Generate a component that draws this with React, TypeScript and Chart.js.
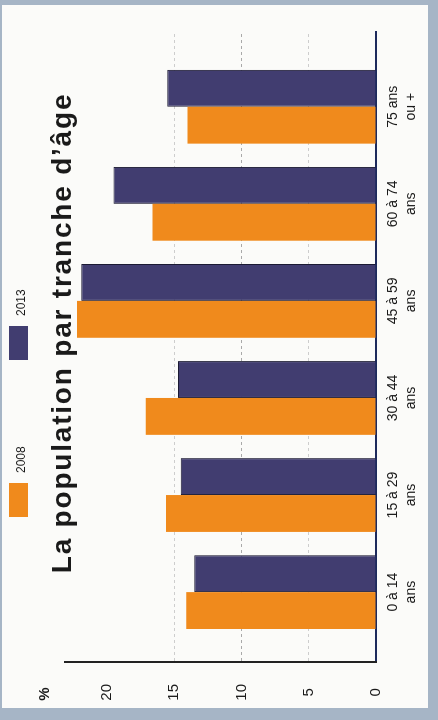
import React, { useEffect, useRef } from 'react';
import { Chart, registerables } from 'chart.js';

Chart.register(...registerables);

// ---- data ----
const CATEGORIES: string[][] = [
  ['0 à 14', 'ans'],
  ['15 à 29', 'ans'],
  ['30 à 44', 'ans'],
  ['45 à 59', 'ans'],
  ['60 à 74', 'ans'],
  ['75 ans', 'ou +'],
];
const SERIES_NAMES = ['2008', '2013'];
const VALUES_2008 = [14.1, 15.6, 17.1, 22.2, 16.6, 14.0];
const VALUES_2013 = [13.5, 14.5, 14.7, 21.9, 19.5, 15.5];
const VALUE_TICKS = [0, 5, 10, 15, 20];
const GRID_VALUES = [5, 10, 15];
const VALUE_MAX = 23.1;
const TITLE = 'La population par tranche d’âge';
const UNIT_LABEL = '%';

// ---- styles ----
const ORANGE = '#f08a1c';
const NAVY = '#413d70';
const TEXT = '#1a1a1a';
const SANS = '"Liberation Sans", Arial, sans-serif';

const overlay = {
  id: 'overlay',
  afterDraw(chart: any) {
    const { ctx } = chart;
    ctx.save();
    // title
    ctx.font = 'bold 28px ' + SANS;
    ctx.fillStyle = TEXT;
    ctx.textAlign = 'center';
    ctx.textBaseline = 'alphabetic';
    (ctx as any).letterSpacing = '1.8px';
    ctx.fillText(TITLE, 387, 71);
    (ctx as any).letterSpacing = '0px';
    // legend
    chart.data.datasets.forEach((ds: any, i: number) => {
      const x = 203 + i * 157;
      ctx.fillStyle = ds.backgroundColor;
      ctx.fillRect(x, 9, 34, 19);
      ctx.fillStyle = TEXT;
      ctx.font = '12px ' + SANS;
      ctx.textAlign = 'left';
      ctx.textBaseline = 'middle';
      ctx.fillText(ds.label, x + 44, 22);
    });
    // unit label above value axis
    const ys = chart.scales.y;
    ctx.font = 'bold 15px ' + SANS;
    ctx.textAlign = 'center';
    ctx.textBaseline = 'middle';
    ctx.fillStyle = TEXT;
    ctx.fillText(UNIT_LABEL, 26, ys.top - 20);
    ctx.restore();
  },
};

export default function App() {
  const ref = useRef<HTMLCanvasElement>(null);

  useEffect(() => {
    const canvas = ref.current;
    if (!canvas) return;
    const chart = new Chart(canvas, {
      type: 'bar',
      data: {
        datasets: [
          {
            label: SERIES_NAMES[0],
            data: VALUES_2008.map((v, i) => ({ x: i, y: v })),
            backgroundColor: ORANGE,
            borderWidth: 0,
          },
          {
            label: SERIES_NAMES[1],
            data: VALUES_2013.map((v, i) => ({ x: i, y: v })),
            backgroundColor: NAVY,
            borderColor: '#1b1a33',
            borderWidth: 1,
          },
        ],
      } as any,
      options: {
        responsive: false,
        animation: false,
        events: [],
        layout: { padding: { top: 65, right: 32, bottom: 0, left: 0 } },
        datasets: { bar: { categoryPercentage: 0.76, barPercentage: 1 } },
        plugins: {
          legend: { display: false },
          title: { display: false },
          tooltip: { enabled: false },
        },
        scales: {
          x: {
            type: 'linear',
            min: -0.72,
            max: CATEGORIES.length - 1 + 0.77,
            offset: false,
            grid: { display: false, drawTicks: false, offset: false },
            border: { display: true, color: '#1d2a5c', width: 2 },
            ticks: {
              stepSize: 1,
              includeBounds: false,
              autoSkip: false,
              maxRotation: 0,
              minRotation: 0,
              padding: 8,
              color: TEXT,
              font: { family: SANS, size: 14, lineHeight: 1.3 },
              callback: (v: any) => CATEGORIES[v as number] ?? '',
            },
            afterFit: (s: any) => {
              s.height = 62;
            },
          },
          y: {
            type: 'linear',
            min: 0,
            max: VALUE_MAX,
            grid: {
              color: (c: any) =>
                GRID_VALUES.includes(c.tick?.value)
                  ? c.tick.value === 10
                    ? '#a9a9a9'
                    : '#cdcdcd'
                  : 'rgba(0,0,0,0)',
              lineWidth: 1,
              drawTicks: false,
            },
            border: { display: true, color: '#222222', width: 2, dash: [3, 3] },
            ticks: {
              padding: 22,
              crossAlign: 'center',
              color: TEXT,
              font: { family: SANS, size: 15 },
            },
            afterBuildTicks: (s: any) => {
              s.ticks = VALUE_TICKS.map((v) => ({ value: v }));
            },
            afterFit: (s: any) => {
              s.width = 58;
            },
          },
        },
      } as any,
      plugins: [overlay],
    });
    return () => chart.destroy();
  }, []);

  return (
    <div
      style={{
        position: 'fixed',
        left: 0,
        top: 0,
        width: 438,
        height: 720,
        background: '#a6b5c6',
        overflow: 'hidden',
      }}
    >
      <div
        style={{
          position: 'absolute',
          left: 2,
          top: 5,
          width: 426,
          height: 703,
          background: '#fbfbf9',
        }}
      />
      <div
        style={{
          position: 'absolute',
          left: 0,
          top: 0,
          width: 720,
          height: 438,
          transformOrigin: '0 0',
          transform: 'translateY(720px) rotate(-90deg)',
        }}
      >
        <canvas ref={ref} width={720} height={438} style={{ display: 'block' }} />
      </div>
    </div>
  );
}
